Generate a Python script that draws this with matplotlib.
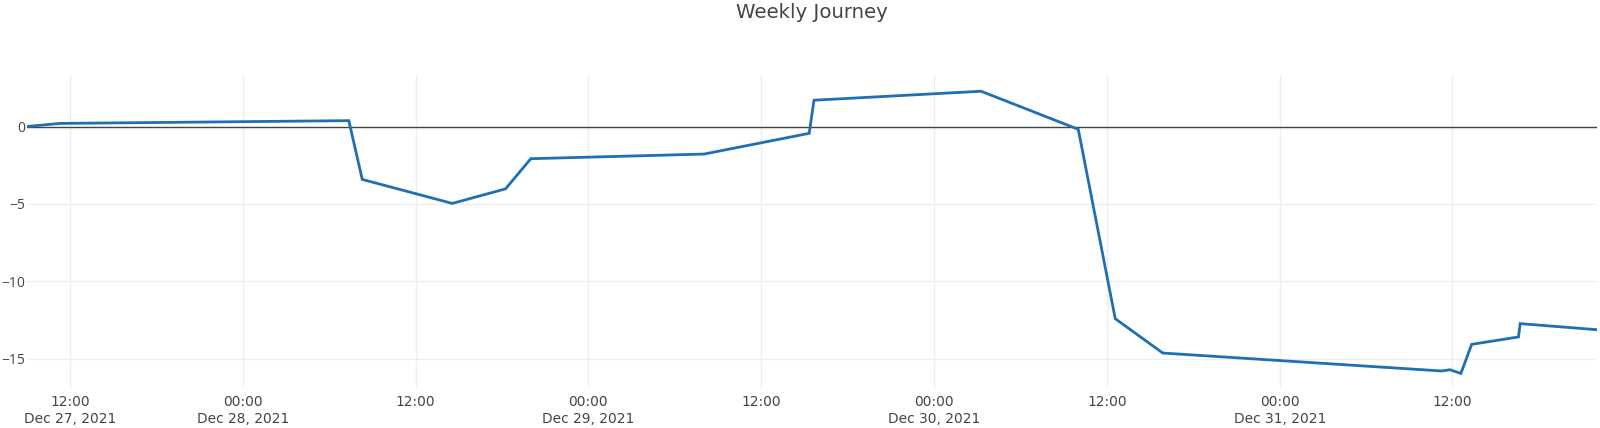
import matplotlib
matplotlib.use("Agg")
import matplotlib.pyplot as plt
import matplotlib.dates as mdates
import pandas as pd

# ---- data ----
times = [
    "2021-12-27 09:00", "2021-12-27 11:18", "2021-12-28 07:22", "2021-12-28 08:18",
    "2021-12-28 14:33", "2021-12-28 18:15", "2021-12-28 20:00", "2021-12-29 08:02",
    "2021-12-29 15:20", "2021-12-29 15:40", "2021-12-30 03:16", "2021-12-30 10:01",
    "2021-12-30 12:35", "2021-12-30 15:53", "2021-12-31 11:15", "2021-12-31 11:50",
    "2021-12-31 12:35", "2021-12-31 13:20", "2021-12-31 16:35", "2021-12-31 16:42",
    "2021-12-31 22:00",
]
values = [
    0.0, 0.2, 0.38, -3.42,
    -4.97, -4.03, -2.08, -1.78,
    -0.44, 1.70, 2.28, -0.18,
    -12.42, -14.64, -15.8, -15.72,
    -15.96, -14.08, -13.6, -12.74,
    -13.13,
]
x_tick_times = [
    "2021-12-27 12:00", "2021-12-28 00:00", "2021-12-28 12:00", "2021-12-29 00:00",
    "2021-12-29 12:00", "2021-12-30 00:00", "2021-12-30 12:00", "2021-12-31 00:00",
    "2021-12-31 12:00",
]
x_tick_labels = [
    "12:00\nDec 27, 2021", "00:00\nDec 28, 2021", "12:00", "00:00\nDec 29, 2021",
    "12:00", "00:00\nDec 30, 2021", "12:00", "00:00\nDec 31, 2021", "12:00",
]
y_ticks = [0, -5, -10, -15]
y_tick_labels = ["0", "\u22125", "\u221210", "\u221215"]
title = "Weekly Journey"

# ---- plot ----
W, H = 1600, 428
fig = plt.figure(figsize=(W / 100, H / 100), dpi=100)
left, right, top, bottom = 26.7, 1596.5, 75, 388
ax = fig.add_axes([left / W, 1 - bottom / H, (right - left) / W, (bottom - top) / H])

t = pd.to_datetime(times)
xt = pd.to_datetime(x_tick_times)

ax.plot(t, values, color="#1f6fb2", lw=2.0, solid_joinstyle="miter", zorder=3)
ax.axhline(0, color="#444444", lw=1.0, zorder=2)

ax.set_xlim(t[0], t[-1])
ax.set_ylim(-16.9, 3.33)

ax.set_xticks(xt)
ax.set_xticklabels(x_tick_labels)
ax.set_yticks(y_ticks)
ax.set_yticklabels(y_tick_labels, family=["Open Sans", "DejaVu Sans"])

ax.grid(True, color="#eeeeee", lw=1.0, zorder=0)
ax.set_axisbelow(True)
for s in ax.spines.values():
    s.set_visible(False)
ax.tick_params(axis="both", length=0, colors="#444444", labelsize=9.9)
ax.tick_params(axis="x", pad=5)
ax.tick_params(axis="y", pad=1.2, labelsize=10)
for lbl in ax.get_xticklabels():
    lbl.set_linespacing(1.25)

fig.text((left + right) / 2 / W, 1 - 13 / H, title, ha="center", va="center",
         fontsize=14.2, color="#444444")

fig.savefig("out.png", dpi=100, facecolor="white")
